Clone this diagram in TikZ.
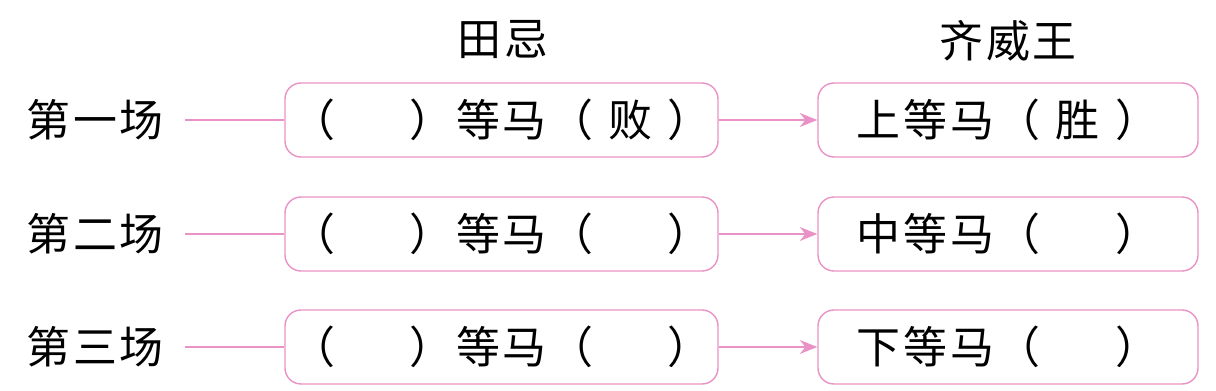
\documentclass[tikz,border=0pt]{standalone}
\usepackage{fontspec}
\newfontfamily\cjk[LetterSpace=6]{Noto Sans CJK SC}
\usetikzlibrary{arrows.meta}
\definecolor{HorsePink}{HTML}{E992C6}
\newcommand{\blank}[1][]{\makebox[1.7em]{#1}}

\begin{document}
\begin{tikzpicture}[line width=0.8pt,draw=HorsePink,font=\cjk\fontsize{25}{30}\selectfont,
  tjbox/.style={draw=HorsePink,rounded corners=0.32cm,minimum width=8.66cm,minimum height=1.48cm,inner sep=0pt},
  qwbox/.style={draw=HorsePink,rounded corners=0.32cm,minimum width=7.6cm,minimum height=1.48cm,inner sep=0pt},
  round/.style={inner xsep=12pt}]
\useasboundingbox (0,0) rectangle (24.32,7.82);
\node (tj) at (10.06,7.02) {田忌};
\node (qw) at (20.16,7.0) {齐威王};
\node[round] (ch1) at (1.9,5.42) {第一场};
\node[round] (ch2) at (1.9,3.14) {第二场};
\node[round] (ch3) at (1.9,0.88) {第三场};
\node[tjbox] (tj1) at (10.03,5.42) {（\blank）等马（\blank[败]）};
\node[tjbox] (tj2) at (10.03,3.14) {（\blank）等马（\blank）};
\node[tjbox] (tj3) at (10.03,0.88) {（\blank）等马（\blank）};
\node[qwbox] (qw1) at (20.16,5.42) {上等马（\blank[胜]）};
\node[qwbox] (qw2) at (20.16,3.14) {中等马（\blank）};
\node[qwbox] (qw3) at (20.16,0.88) {下等马（\blank）};
\draw (ch1.east) -- (tj1.west);
\draw (ch2.east) -- (tj2.west);
\draw (ch3.east) -- (tj3.west);
\draw[-{Stealth[length=10pt,width=8pt]},HorsePink] (tj1.east) -- (qw1.west);
\draw[-{Stealth[length=10pt,width=8pt]},HorsePink] (tj2.east) -- (qw2.west);
\draw[-{Stealth[length=10pt,width=8pt]},HorsePink] (tj3.east) -- (qw3.west);
\end{tikzpicture}
\end{document}
